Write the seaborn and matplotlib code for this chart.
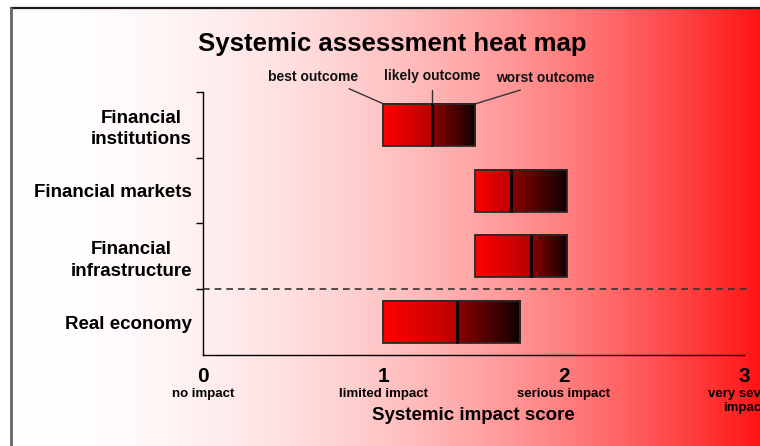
import matplotlib
matplotlib.use("Agg")
import matplotlib.pyplot as plt
import numpy as np
import seaborn as sns

categories = ["Financial\ninstitutions", "Financial markets", "Financial\ninfrastructure", "Real economy"]
best = [1.0, 1.51, 1.51, 1.0]
likely = [1.27, 1.71, 1.82, 1.41]
worst = [1.51, 2.02, 2.02, 1.76]
score_ticks = [0, 1, 2, 3]
score_names = ["no impact", "limited impact", "serious impact", "very severe\nimpact"]

sns.set_theme(style="white")
plt.rcParams['font.family'] = ['Liberation Sans', 'DejaVu Sans']
plt.rcParams['text.color'] = 'black'
plt.rcParams['xtick.color'] = 'black'
plt.rcParams['ytick.color'] = 'black'

fig = plt.figure(figsize=(7.6, 4.46), dpi=100)

# background: white -> red gradient with frame lines
bg = fig.add_axes([0, 0, 1, 1], zorder=0)
bg.set_xlim(0, 760)
bg.set_ylim(446, 0)
bg.axis('off')
t = np.linspace(0, 1, 748)
g = 1 - 0.92 * t ** 2
grad = np.stack([np.ones_like(t), g, g], -1)[None, :, :]
bg.imshow(grad, extent=[12, 760, 446, 8], aspect='auto')
bg.plot([11, 760], [8, 8], color='#1a1a1a', lw=1.6)
bg.plot([11, 11], [8, 446], color='#666666', lw=2)
bg.set_xlim(0, 760)
bg.set_ylim(446, 0)

ax = fig.add_axes([203 / 760, 1 - 355 / 446, 541 / 760, 263 / 446], zorder=1)
ax.patch.set_alpha(0)

h = 0.64


def seg(x0, x1, y, c0, c1):
    n = 100
    a = np.linspace(0, 1, n)[:, None]
    cols = (1 - a) * np.array(c0) + a * np.array(c1)
    ax.imshow(cols[None, :, :], extent=[x0, x1, y + h / 2, y - h / 2],
              aspect='auto', zorder=2, interpolation='bilinear')


for i in range(len(categories)):
    seg(best[i], likely[i], i, (1.0, 0, 0), (0.72, 0, 0))
    seg(likely[i], worst[i], i, (0.55, 0, 0), (0.06, 0, 0))

ax.barh(range(len(categories)), np.subtract(worst, best), left=best, height=h,
        facecolor='none', edgecolor='#2a2a2a', lw=1.3, zorder=3)
ax.vlines(likely, np.arange(4) - h / 2, np.arange(4) + h / 2, color='black', lw=2, zorder=4)

ax.set_xlim(0, 3)
ax.set_ylim(3.5, -0.5)

ax.axhline(2.5, ls=(0, (4, 3)), color='#333333', lw=1.2, xmax=1.005, clip_on=False)

# outcome labels
lab = dict(fontsize=10, fontweight='bold', ha='center', va='center', color='#111111')
ax.text(best[0] - 0.39, -0.73, "best outcome", **lab)
ax.text(likely[0], -0.74, "likely outcome", **lab)
ax.text(worst[0] + 0.39, -0.72, "worst outcome", **lab)
ax.plot([best[0] - 0.19, best[0]], [-0.55, -0.32], color='#333333', lw=1, clip_on=False)
ax.plot([likely[0], likely[0]], [-0.53, -0.32], color='#333333', lw=1, clip_on=False)
ax.plot([worst[0] + 0.25, worst[0]], [-0.53, -0.32], color='#333333', lw=1, clip_on=False)

ax.set_yticks(range(len(categories)))
ax.set_yticklabels(categories, fontsize=13.5, fontweight='bold', multialignment='center',
                   linespacing=1.35)
ax.set_yticks([-0.5, 0.5, 1.5, 2.5], minor=True)
ax.tick_params(axis='y', which='major', length=0, pad=8)
ax.tick_params(axis='y', which='minor', left=True, length=5, width=1, color='black')

ax.set_xticks(score_ticks)
ax.set_xticklabels([str(v) for v in score_ticks], fontsize=15, fontweight='bold')
ax.tick_params(axis='x', length=0, pad=9)

for v, name in zip(score_ticks, score_names):
    ax.text(v, -0.125, name, transform=ax.get_xaxis_transform(), ha='center', va='top',
            fontsize=9.5, fontweight='bold', linespacing=1.2, clip_on=False)

ax.text(1.5, -0.23, "Systemic impact score", transform=ax.get_xaxis_transform(),
        ha='center', va='center', fontsize=13.5, fontweight='bold')

sns.despine(ax=ax)
for s in ['left', 'bottom']:
    ax.spines[s].set_color('black')
    ax.spines[s].set_linewidth(1)

fig.text(392 / 760, 1 - 44 / 446, "Systemic assessment heat map", ha='center', va='center',
         fontsize=18.5, fontweight='bold')

fig.savefig("out.png", dpi=100)
